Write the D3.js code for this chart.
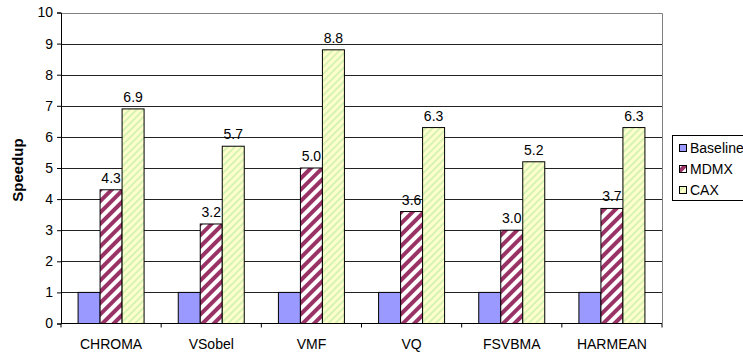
<!DOCTYPE html>
<html>
<head>
<meta charset="utf-8">
<script src="https://cdn.jsdelivr.net/npm/d3@7"></script>
<style>
  html, body { margin: 0; padding: 0; background: #fff; }
  svg { display: block; font-family: "Liberation Sans", Arial, sans-serif; }
</style>
</head>
<body>
<svg id="chart" width="743" height="353"></svg>
<script>
// Benchmarks and speedup per configuration
const categories = ["CHROMA", "VSobel", "VMF", "VQ", "FSVBMA", "HARMEAN"];
const seriesNames = ["Baseline", "MDMX", "CAX"];
const baseline = [1.0, 1.0, 1.0, 1.0, 1.0, 1.0];
const mdmx = [4.3, 3.2, 5.0, 3.6, 3.0, 3.7];
const cax = [6.9, 5.7, 8.8, 6.3, 5.2, 6.3];
const yTicks = [0, 1, 2, 3, 4, 5, 6, 7, 8, 9, 10];
const labeledSeries = ["MDMX", "CAX"];

const seriesValues = { Baseline: baseline, MDMX: mdmx, CAX: cax };

const svg = d3.select("#chart");
const margin = { left: 61, top: 12.5, right: 662, bottom: 323.5 };
const fontSize = 14;

// Fill patterns
const defs = svg.append("defs");
const pm = defs.append("pattern").attr("id", "pat-mdmx")
  .attr("patternUnits", "userSpaceOnUse").attr("width", 8).attr("height", 8)
  .attr("patternTransform", "rotate(45)");
pm.append("rect").attr("width", 8).attr("height", 8).attr("fill", "#fff");
pm.append("rect").attr("x", 0).attr("width", 4).attr("height", 8).attr("fill", "#993366");

const pc = defs.append("pattern").attr("id", "pat-cax")
  .attr("patternUnits", "userSpaceOnUse").attr("width", 5).attr("height", 5)
  .attr("patternTransform", "rotate(45)");
pc.append("rect").attr("width", 5).attr("height", 5).attr("fill", "#ffffcc");
pc.append("rect").attr("width", 2).attr("height", 5).attr("fill", "#d6f2b4");

const fills = { Baseline: "#9999ff", MDMX: "url(#pat-mdmx)", CAX: "url(#pat-cax)" };

const x0 = d3.scaleBand().domain(categories).range([margin.left, margin.right]);
const barW = 22;
const x1 = d3.scaleBand().domain(seriesNames)
  .range([x0.bandwidth() / 2 - barW * 1.5, x0.bandwidth() / 2 + barW * 1.5]);
const y = d3.scaleLinear().domain([0, 10]).range([margin.bottom, margin.top]);

// Gridlines
svg.append("g").selectAll("line").data(yTicks.filter(t => t > 0)).join("line")
  .attr("x1", margin.left).attr("x2", margin.right)
  .attr("y1", d => Math.round(y(d)) + 0.5).attr("y2", d => Math.round(y(d)) + 0.5)
  .attr("stroke", "#222").attr("stroke-width", 1);

// Plot frame (top/right)
svg.append("path")
  .attr("d", `M${margin.left},${Math.round(margin.top) + 0.5}H${margin.right + 0.5}V${margin.bottom}`)
  .attr("fill", "none").attr("stroke", "#808080");

// Bars
const groups = svg.append("g").selectAll("g").data(categories).join("g")
  .attr("transform", d => `translate(${x0(d)},0)`);

groups.selectAll("rect")
  .data((c, i) => seriesNames.map(s => ({ s, v: seriesValues[s][i] })))
  .join("rect")
  .attr("x", d => x1(d.s))
  .attr("y", d => y(d.v))
  .attr("width", x1.bandwidth())
  .attr("height", d => y(0) - y(d.v))
  .attr("fill", d => fills[d.s])
  .attr("stroke", "#000").attr("stroke-width", 1);

// Value labels
groups.selectAll("text")
  .data((c, i) => labeledSeries.map(s => ({ s, v: seriesValues[s][i] })))
  .join("text")
  .attr("x", d => x1(d.s) + x1.bandwidth() / 2)
  .attr("y", d => y(d.v) - 7)
  .attr("text-anchor", "middle")
  .attr("font-size", fontSize).attr("fill", "#000")
  .text(d => d3.format(".1f")(d.v));

// Y axis
const yAxis = svg.append("g").attr("transform", `translate(${margin.left},0)`)
  .call(d3.axisLeft(y).tickValues(yTicks).tickSize(4).tickPadding(4).tickFormat(d3.format("d")));
yAxis.select(".domain").attr("stroke", "#000");
yAxis.selectAll("text").attr("font-size", fontSize).attr("font-family", "Liberation Sans, Arial, sans-serif").attr("fill", "#000");

// X axis with ticks on category boundaries
const xAxis = svg.append("g").attr("transform", `translate(0,${margin.bottom})`);
xAxis.append("line").attr("x1", margin.left).attr("x2", margin.right)
  .attr("stroke", "#000");
const boundaries = categories.map(c => x0(c)).concat([margin.right]);
xAxis.selectAll("line.tick").data(boundaries).join("line").attr("class", "tick")
  .attr("x1", d => d).attr("x2", d => d).attr("y1", 0).attr("y2", 4).attr("stroke", "#000");
xAxis.selectAll("text").data(categories).join("text")
  .attr("x", d => x0(d) + x0.bandwidth() / 2)
  .attr("y", 25)
  .attr("text-anchor", "middle")
  .attr("font-size", fontSize)
  .text(d => d);

// Y axis title
svg.append("text")
  .attr("transform", "translate(23,170) rotate(-90)")
  .attr("text-anchor", "middle")
  .attr("font-size", 15).attr("font-weight", "bold")
  .text("Speedup");

// Legend
const legend = svg.append("g");
legend.append("rect").attr("x", 672.5).attr("y", 135.5).attr("width", 80).attr("height", 65)
  .attr("fill", "#fff").attr("stroke", "#000");
const items = legend.selectAll("g.item").data(seriesNames).join("g").attr("class", "item")
  .attr("transform", (d, i) => `translate(679,${148 + i * 21})`);
items.append("rect").attr("x", 0.5).attr("y", -3.5).attr("width", 7).attr("height", 7)
  .attr("fill", d => fills[d]).attr("stroke", "#000");
items.append("text").attr("x", 11).attr("y", 5).attr("font-size", fontSize).text(d => d);
</script>
</body>
</html>
